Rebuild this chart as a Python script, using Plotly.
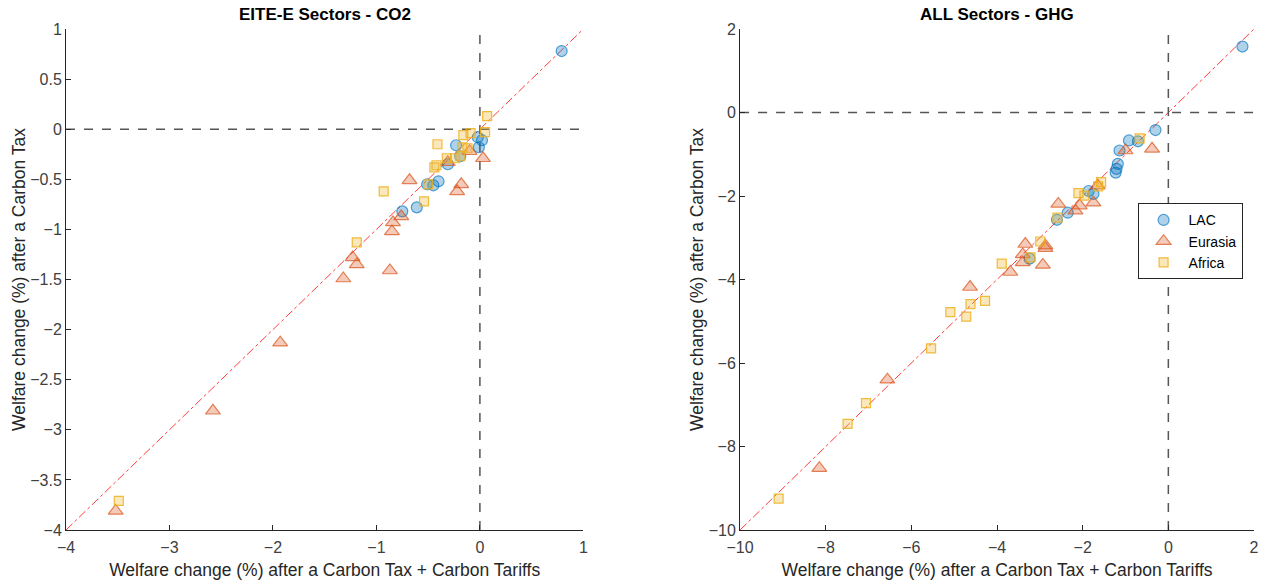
import plotly.graph_objects as go

# ---- Left panel: EITE-E Sectors - CO2 ----
L_lac_x = [0.79, -0.23, -0.02, 0.02, -0.01, -0.19, -0.31, -0.51, -0.45, -0.40, -0.75, -0.61]
L_lac_y = [0.78, -0.16, -0.08, -0.11, -0.18, -0.27, -0.35, -0.55, -0.56, -0.52, -0.82, -0.78]

L_eur_x = [-0.68, -0.18, -0.22, 0.03, -0.10, -0.84, -0.76, -0.85, -1.23, -1.19, -0.87, -1.32, -0.31, -1.93, -2.58, -3.52]
L_eur_y = [-0.51, -0.55, -0.62, -0.29, -0.22, -0.93, -0.87, -1.02, -1.28, -1.35, -1.41, -1.49, -0.33, -2.13, -2.81, -3.81]

L_afr_x = [0.07, -0.16, -0.09, 0.05, -0.41, -0.17, -0.12, -0.19, -0.24, -0.32, -0.42, -0.44, -0.50, -0.93, -0.54, -1.19, -3.49]
L_afr_y = [0.13, -0.06, -0.04, -0.03, -0.15, -0.18, -0.19, -0.27, -0.29, -0.29, -0.36, -0.38, -0.55, -0.62, -0.72, -1.13, -3.71]

# ---- Right panel: ALL Sectors - GHG ----
R_lac_x = [1.73, -0.30, -0.71, -0.92, -1.14, -1.18, -1.21, -1.23, -1.86, -1.75, -2.35, -2.60, -3.24]
R_lac_y = [1.58, -0.42, -0.69, -0.67, -0.91, -1.23, -1.35, -1.44, -1.88, -1.95, -2.40, -2.57, -3.50]

R_eur_x = [-0.38, -1.00, -1.65, -2.57, -2.07, -1.75, -2.17, -3.34, -2.87, -2.87, -3.40, -3.40, -2.93, -3.69, -4.63, -6.56, -8.15]
R_eur_y = [-0.87, -0.91, -1.75, -2.19, -2.23, -2.16, -2.35, -3.15, -3.19, -3.25, -3.40, -3.59, -3.65, -3.82, -4.18, -6.40, -8.52]

R_afr_x = [-0.67, -1.57, -1.64, -2.10, -1.96, -2.59, -2.99, -3.22, -3.89, -4.28, -4.62, -4.72, -5.09, -5.54, -7.06, -7.49, -9.10]
R_afr_y = [-0.62, -1.67, -1.77, -1.93, -1.99, -2.52, -3.09, -3.47, -3.62, -4.51, -4.59, -4.89, -4.78, -5.65, -6.96, -7.46, -9.25]

L_range = [-4, 1]
R_range = [-10, 2]
L_ticks = [-4, -3, -2, -1, 0, 1]
L_yticks = [-4, -3.5, -3, -2.5, -2, -1.5, -1, -0.5, 0, 0.5, 1]
R_ticks = [-10, -8, -6, -4, -2, 0, 2]

FONT = "Liberation Sans, Arial, sans-serif"
BLUE_F, BLUE_E = "rgba(0,114,189,0.32)", "rgba(0,114,189,0.65)"
ORG_F, ORG_E = "rgba(217,83,25,0.30)", "rgba(217,83,25,0.70)"
YEL_F, YEL_E = "rgba(237,177,32,0.30)", "rgba(237,177,32,0.85)"

fig = go.Figure()

def add_panel(xa, ya, rng, lac, eur, afr, show):
    # 45-degree reference line
    fig.add_trace(go.Scatter(x=rng, y=rng, mode="lines", xaxis=xa, yaxis=ya,
                             line=dict(color="rgba(255,40,40,0.9)", width=1, dash="dashdot"),
                             showlegend=False, hoverinfo="skip"))
    # zero lines
    fig.add_trace(go.Scatter(x=rng, y=[0, 0], mode="lines", xaxis=xa, yaxis=ya,
                             line=dict(color="#555555", width=1.5, dash="dash"),
                             showlegend=False, hoverinfo="skip"))
    fig.add_trace(go.Scatter(x=[0, 0], y=rng, mode="lines", xaxis=xa, yaxis=ya,
                             line=dict(color="#555555", width=1.5, dash="dash"),
                             showlegend=False, hoverinfo="skip"))
    fig.add_trace(go.Scatter(x=lac[0], y=lac[1], mode="markers", name="LAC", xaxis=xa, yaxis=ya,
                             marker=dict(symbol="circle", size=11, color=BLUE_F,
                                         line=dict(color=BLUE_E, width=1.2)),
                             showlegend=show))
    fig.add_trace(go.Scatter(x=eur[0], y=eur[1], mode="markers", name="Eurasia", xaxis=xa, yaxis=ya,
                             marker=dict(symbol="triangle-up", size=13, color=ORG_F,
                                         line=dict(color=ORG_E, width=1.2)),
                             showlegend=show))
    fig.add_trace(go.Scatter(x=afr[0], y=afr[1], mode="markers", name="Africa", xaxis=xa, yaxis=ya,
                             marker=dict(symbol="square", size=9, color=YEL_F,
                                         line=dict(color=YEL_E, width=1.2)),
                             showlegend=show))

add_panel("x", "y", L_range, (L_lac_x, L_lac_y), (L_eur_x, L_eur_y), (L_afr_x, L_afr_y), False)
add_panel("x2", "y2", R_range, (R_lac_x, R_lac_y), (R_eur_x, R_eur_y), (R_afr_x, R_afr_y), True)

TICKFONT = dict(family=FONT, size=16, color="#404040")
axis_common = dict(showline=True, linecolor="#262626", linewidth=1, ticks="inside", ticklen=5,
                   tickcolor="#262626", showgrid=False, zeroline=False, mirror=False,
                   automargin=False, tickfont=TICKFONT)
xt = "Welfare change (%) after a Carbon Tax + Carbon Tariffs"
yt = "Welfare change (%) after a Carbon Tax"
tfont = dict(family=FONT, size=17.5, color="#262626")

fig.update_layout(
    width=1264, height=582,
    margin=dict(l=66, r=10, t=29, b=52),
    paper_bgcolor="white", plot_bgcolor="white",
    font=dict(family=FONT, size=16),
    xaxis=dict(domain=[0, 0.4355], range=L_range, tickvals=L_ticks, ticklabelstandoff=3,
               title=dict(text=xt, font=tfont, standoff=8), anchor="y", **axis_common),
    yaxis=dict(domain=[0, 1], range=L_range, tickvals=L_yticks,
               title=dict(text=yt, font=tfont, standoff=0), anchor="x", **axis_common),
    xaxis2=dict(domain=[0.5674, 1], range=R_range, tickvals=R_ticks, ticklabelstandoff=3,
                title=dict(text=xt, font=tfont, standoff=8), anchor="y2", **axis_common),
    yaxis2=dict(domain=[0, 1], range=R_range, tickvals=R_ticks,
                title=dict(text=yt, font=tfont, standoff=0), anchor="x2", **axis_common),
    legend=dict(x=0.902, y=0.652, xanchor="left", yanchor="top",
                bordercolor="#262626", borderwidth=1, bgcolor="white",
                font=dict(family=FONT, size=14, color="#000000"),
                itemwidth=40, tracegroupgap=0),
    annotations=[
        dict(text="<b>EITE-E Sectors - CO2</b>", x=0.2178, y=1, xref="paper", yref="paper",
             xanchor="center", yanchor="bottom", yshift=3, showarrow=False,
             font=dict(family=FONT, size=17, color="#000000")),
        dict(text="<b>ALL Sectors - GHG</b>", x=0.7837, y=1, xref="paper", yref="paper",
             xanchor="center", yanchor="bottom", yshift=3, showarrow=False,
             font=dict(family=FONT, size=17, color="#000000")),
    ],
)

fig.write_html("out.html")
